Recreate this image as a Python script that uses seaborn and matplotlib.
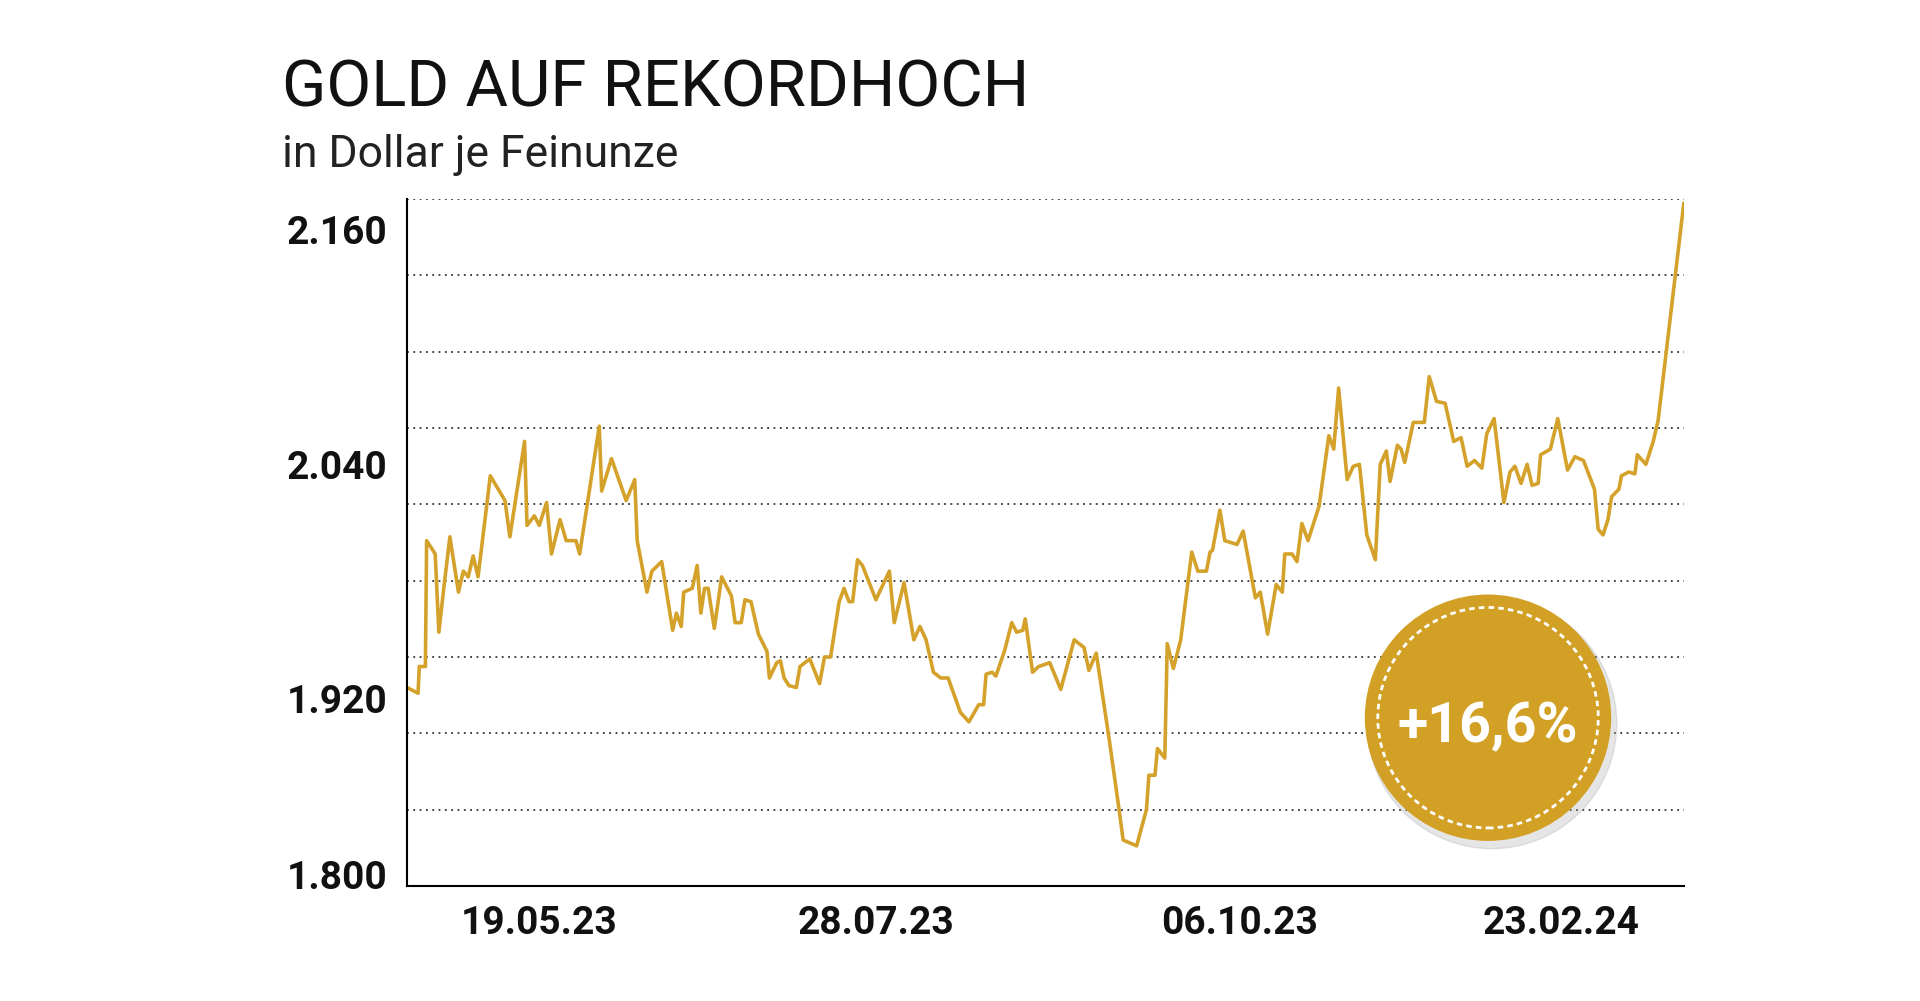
import matplotlib
matplotlib.use("Agg")
import matplotlib.pyplot as plt
import matplotlib.patches as mpatches
import seaborn as sns
import pandas as pd

sns.set_style("white")
plt.rcParams['font.family'] = ['Roboto', 'DejaVu Sans']

# time index (arbitrary units) and gold price in USD per ounce
t = [0, 9, 10, 15, 16, 23, 26, 30, 35, 42, 46, 50, 54, 58, 68, 80, 84, 96, 98, 104, 108, 114, 118,
     125, 130, 138, 141, 157, 159, 167, 179, 186, 188, 196, 200, 208, 217, 220, 224, 226, 233, 237,
     240, 243, 246, 251, 257, 265, 268, 273, 276, 281, 287, 294, 296, 302, 305, 308, 312, 318, 321,
     329, 337, 341, 346, 353, 357, 361, 364, 368, 372, 383, 394, 398, 406, 414, 419, 424, 430, 436,
     442, 452, 459, 467, 471, 473, 478, 481, 488, 494, 498, 503, 505, 511, 516, 525, 534, 545, 553,
     557, 563, 574, 581, 585, 596, 604, 606, 611, 613, 619, 621, 626, 632, 641, 646, 653, 656, 658,
     664, 668, 678, 683, 693, 697, 703, 710, 715, 717, 723, 727, 731, 736, 745, 753, 757, 761, 768,
     773, 778, 784, 791, 795, 800, 803, 809, 812, 815, 822, 831, 835, 841, 848, 855, 861, 866, 872,
     878, 882, 888, 896, 901, 905, 910, 915, 919, 924, 926, 934, 940, 948, 954, 961, 970, 973, 977,
     981, 984, 990, 992, 998, 1003, 1005, 1012, 1018, 1022, 1043]
price = [1904, 1901, 1915, 1915, 1981, 1974, 1933, 1956, 1983, 1954, 1965, 1962, 1973, 1962, 2015,
         2002, 1983, 2033, 1989, 1994, 1989, 2001, 1974, 1992, 1981, 1981, 1974, 2041, 2007, 2024,
         2002, 2013, 1981, 1954, 1965, 1970, 1934, 1943, 1936, 1954, 1956, 1968, 1943, 1956, 1956,
         1935, 1962, 1952, 1938, 1938, 1950, 1949, 1932, 1923, 1909, 1917, 1918, 1909, 1905, 1904,
         1915, 1919, 1906, 1920, 1920, 1949, 1956, 1949, 1949, 1971, 1968, 1950, 1965, 1938, 1959,
         1929, 1936, 1929, 1912, 1909, 1909, 1891, 1886, 1895, 1895, 1911, 1912, 1910, 1923, 1938,
         1933, 1934, 1940, 1912, 1915, 1917, 1903, 1929, 1925, 1913, 1922, 1875, 1843, 1824, 1821,
         1840, 1858, 1858, 1872, 1867, 1927, 1914, 1929, 1975, 1965, 1965, 1975, 1976, 1997, 1981,
         1979, 1986, 1951, 1954, 1932, 1958, 1954, 1974, 1974, 1970, 1990, 1981, 1999, 2036, 2029,
         2061, 2013, 2020, 2021, 1984, 1971, 2021, 2028, 2012, 2031, 2029, 2022, 2043, 2043, 2067,
         2054, 2053, 2033, 2035, 2020, 2023, 2019, 2037, 2045, 2001, 2017, 2020, 2011, 2021, 2010,
         2011, 2026, 2029, 2045, 2018, 2025, 2023, 2008, 1987, 1984, 1992, 2004, 2008, 2015, 2017,
         2016, 2026, 2021, 2033, 2044, 2158]

xtick_pos = [108, 383, 680, 943]
xtick_labels = ['19.05.23', '28.07.23', '06.10.23', '23.02.24']
ytick_pos = [2144, 2021, 1898, 1806]
ytick_labels = ['2.160', '2.040', '1.920', '1.800']
badge_text = '+16,6%'

gold = '#D4A22B'
df = pd.DataFrame({'t': t, 'price': price})

fig = plt.figure(figsize=(19.2, 10.01), dpi=100)
ax = fig.add_axes([0.212, 0.115, 0.665, 0.686])
for g in range(1840, 2161, 40):
    ax.axhline(g, color='#333333', lw=1.3, ls=(0, (1, 2.5)), zorder=0)
sns.lineplot(data=df, x='t', y='price', ax=ax, color=gold, lw=2.6)
ax.set_xlim(0, 1043)
ax.set_ylim(1800, 2160)
ax.set_xticks(xtick_pos, xtick_labels)
ax.set_yticks(ytick_pos, ytick_labels)
ax.tick_params(length=0, labelsize=28, pad=14, colors='#111111')
for lab in ax.get_xticklabels() + ax.get_yticklabels():
    lab.set_fontweight('bold')
ax.set_xlabel('')
ax.set_ylabel('')
for s in ['top', 'right']:
    ax.spines[s].set_visible(False)
for s in ['left', 'bottom']:
    ax.spines[s].set_color('black')
    ax.spines[s].set_linewidth(1.5)

fig.text(0.147, 0.912, 'GOLD AUF REKORDHOCH', fontsize=47, fontweight='normal', color='#111111', va='center')
fig.text(0.147, 0.845, 'in Dollar je Feinunze', fontsize=32, fontweight='normal', color='#222222', va='center')

# badge
cx, cy = 0.775, 0.283
w, h = 0.1276, 0.1276 * 1920 / 1001
fig.patches.append(mpatches.Ellipse((cx + 0.002, cy - 0.006), w * 1.02, h * 1.02, transform=fig.transFigure,
                                    color='#aaaaaa', alpha=0.3, zorder=5))
fig.patches.append(mpatches.Ellipse((cx, cy), w, h, transform=fig.transFigure,
                                    color='#D2A024', zorder=6))
fig.patches.append(mpatches.Ellipse((cx, cy), w * 0.9, h * 0.9, transform=fig.transFigure,
                                    fill=False, ec='white', lw=2, ls=(0, (2, 1.5)), zorder=7))
fig.text(cx, cy - 0.01, badge_text, fontsize=40, fontweight='bold', color='white', ha='center', va='center', zorder=8)

fig.savefig('out.png', dpi=100)
